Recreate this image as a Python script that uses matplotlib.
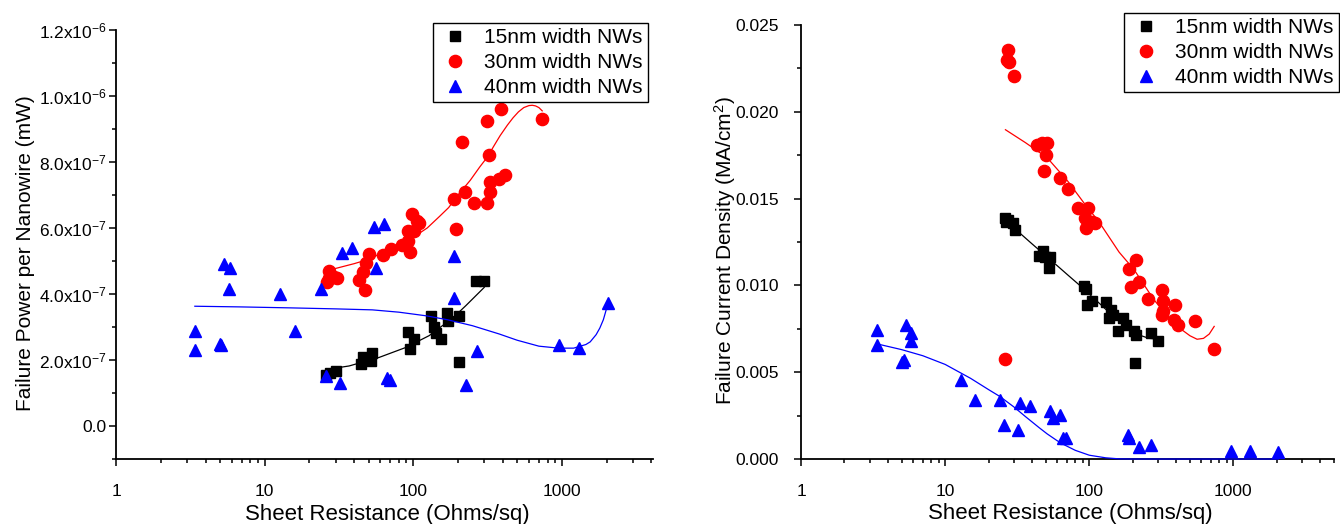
import matplotlib
matplotlib.use('Agg')
import matplotlib.pyplot as plt
from matplotlib.ticker import FixedLocator, FixedFormatter, LogLocator, NullFormatter

plt.rcParams['font.family'] = ['Liberation Sans', 'DejaVu Sans']
plt.rcParams['mathtext.fontset'] = 'custom'
plt.rcParams['mathtext.rm'] = 'Liberation Sans'
plt.rcParams['mathtext.it'] = 'Liberation Sans:italic'
plt.rcParams['mathtext.bf'] = 'Liberation Sans:bold'

# ---------------- DATA ----------------
series_labels = ['15nm width NWs', '30nm width NWs', '40nm width NWs']
x_ticks = [1, 10, 100, 1000]
x_tick_labels = ['1', '10', '100', '1000']

P_UNIT = 1e-7  # left panel values are in units of 1e-7 mW

# Left panel: Failure Power per Nanowire
p15_x = [25.9, 27.5, 30.0, 44.6, 46.2, 48.5, 52.0, 52.5, 92.5, 95.0, 101.6, 131.5, 138, 142,
         153.5, 167.4, 170, 203.5, 203.5, 263.6, 299.7]
p15_y = [1.55, 1.62, 1.67, 1.89, 2.08, 2.05, 1.98, 2.20, 2.84, 2.33, 2.63, 3.34, 2.99, 2.82,
         2.64, 3.44, 3.19, 3.34, 1.95, 4.39, 4.39]
p30_x = [26.2, 27.0, 27.3, 29.5, 30.5, 42.9, 45.7, 47.6, 48.2, 50.1, 62.2, 70.8, 83.6, 92.3,
         92.3, 95.5, 97.3, 100.7, 105.5, 109, 188, 193, 212, 223, 255, 315, 315, 321, 326, 330,
         379, 392, 411, 737]
p30_y = [4.35, 4.49, 4.71, 4.51, 4.50, 4.41, 4.66, 4.12, 4.93, 5.22, 5.17, 5.37, 5.50, 5.60,
         5.90, 5.28, 6.41, 5.90, 6.21, 6.16, 6.87, 5.96, 8.61, 7.10, 6.76, 9.24, 6.76, 8.21, 7.10,
         7.40, 7.50, 9.60, 7.60, 9.29]
p40_x = [3.39, 3.39, 5.01, 5.10, 5.33, 5.80, 5.76, 12.6, 15.9, 24.0, 25.7, 31.9, 33.0, 38.5,
         54.3, 63.2, 56.1, 66.2, 69.4, 188, 189, 226, 269, 961, 1313, 2048]
p40_y = [2.89, 2.29, 2.49, 2.47, 4.91, 4.79, 4.14, 4.01, 2.87, 4.14, 1.51, 1.30, 5.25, 5.38,
         6.03, 6.11, 4.79, 1.46, 1.39, 5.15, 3.88, 1.25, 2.26, 2.45, 2.35, 3.73]

# Left panel fitted curves
pf15_x = [26.5, 37, 59, 89, 128, 157, 184, 226, 300]
pf15_y = [1.72, 1.82, 2.08, 2.38, 2.74, 3.04, 3.27, 3.65, 4.20]
pf30_x = [28, 40, 50, 65, 80, 100, 124, 150, 173, 200, 242, 280, 315, 350, 384, 430, 469, 510,
          554, 600, 632, 665, 700, 737]
pf30_y = [4.74, 4.92, 5.05, 5.30, 5.50, 5.72, 6.00, 6.35, 6.62, 7.00, 7.45, 7.85, 8.15, 8.50,
          8.80, 9.12, 9.34, 9.52, 9.65, 9.71, 9.72, 9.70, 9.65, 9.55]
pf40_x = [3.39, 6.8, 15, 30, 53, 80, 122, 170, 250, 378, 500, 700, 950, 1200, 1450, 1550, 1700,
          1800, 1900, 2048]
pf40_y = [3.63, 3.61, 3.58, 3.55, 3.52, 3.45, 3.34, 3.22, 3.04, 2.79, 2.60, 2.42, 2.36, 2.36,
          2.47, 2.55, 2.77, 2.97, 3.22, 3.73]

p_yticks = [0, 2e-7, 4e-7, 6e-7, 8e-7, 1.0e-6, 1.2e-6]
p_ytick_labels = ['0.0', r'2.0x10$^{\mathregular{-7}}$', r'4.0x10$^{\mathregular{-7}}$',
                  r'6.0x10$^{\mathregular{-7}}$', r'8.0x10$^{\mathregular{-7}}$',
                  r'1.0x10$^{\mathregular{-6}}$', r'1.2x10$^{\mathregular{-6}}$']
p_yminor = [-1e-7, 1e-7, 3e-7, 5e-7, 7e-7, 9e-7, 1.1e-6]

# Right panel: Failure Current Density (MA/cm^2)
j15_x = [25.9, 26.6, 27.5, 29.4, 30.5, 44.9, 47.4, 49.1, 53.2, 52.5, 91.8, 95.0, 96.9, 103.7,
         131.6, 141, 136, 146, 170.6, 178.8, 159.2, 205, 212, 269, 302, 207.6]
j15_y = [0.01390, 0.01367, 0.01376, 0.01357, 0.01322, 0.01172, 0.01196, 0.01163, 0.01163,
         0.01098, 0.00997, 0.00978, 0.00890, 0.00910, 0.00904, 0.00861, 0.00813, 0.00832,
         0.00813, 0.00774, 0.00735, 0.00735, 0.00715, 0.00725, 0.00682, 0.00554]
j30_x = [27.5, 27.0, 27.9, 29.9, 26.2, 43.7, 46.8, 50.8, 50.1, 48.4, 63.1, 71.3, 83.4, 98.2,
         93.7, 95.6, 103.7, 108.8, 187.6, 212, 194, 222, 256.6, 319, 323.6, 319, 326, 391, 386,
         413, 542, 731]
j30_y = [0.02358, 0.02300, 0.02290, 0.02208, 0.00575, 0.01810, 0.01818, 0.01818, 0.01750,
         0.01658, 0.01619, 0.01557, 0.01448, 0.01448, 0.01386, 0.01328, 0.01367, 0.01357,
         0.01094, 0.01149, 0.00993, 0.01017, 0.00923, 0.00974, 0.00910, 0.00832, 0.00851,
         0.00886, 0.00803, 0.00774, 0.00793, 0.00634]
j40_x = [3.38, 3.38, 5.02, 5.19, 5.37, 5.83, 5.75, 12.8, 16.2, 24.0, 25.7, 32.0, 33.3, 38.7,
         53.6, 56.2, 63.1, 65.8, 69.0, 185, 189, 222, 269, 961, 1306, 2032]
j40_y = [0.00745, 0.00657, 0.00560, 0.00570, 0.00770, 0.00725, 0.00680, 0.00457, 0.00340,
         0.00340, 0.00194, 0.00165, 0.00321, 0.00307, 0.00274, 0.00239, 0.00255, 0.00122,
         0.00122, 0.00138, 0.00119, 0.00068, 0.00080, 0.00045, 0.00045, 0.00041]

# Right panel fitted curves
jf15_x = [26.6, 40, 56, 71, 86, 100, 120, 141, 171, 200, 230, 260, 290]
jf15_y = [0.01370, 0.01240, 0.01135, 0.01060, 0.01000, 0.00950, 0.00890, 0.00835, 0.00780,
          0.00740, 0.00710, 0.00695, 0.00692]
jf30_x = [26.2, 36, 51, 71, 94, 116, 161, 205, 280, 360, 430, 500, 560, 620, 680, 736]
jf30_y = [0.01897, 0.01823, 0.01736, 0.01600, 0.01464, 0.01370, 0.01192, 0.01090, 0.00919,
          0.00810, 0.00750, 0.00710, 0.00690, 0.00695, 0.00720, 0.00764]
jf40_x = [3.38, 5, 7, 10, 15, 20, 24, 30, 36, 45, 51, 60, 67, 80, 100, 130, 161, 200, 500,
          1000, 2048]
jf40_y = [0.00663, 0.00630, 0.00595, 0.00545, 0.00465, 0.00400, 0.00360, 0.00300, 0.00245,
          0.00180, 0.00145, 0.00105, 0.00082, 0.00050, 0.00022, 0.00007, 0.00001, 0.0, 0.0,
          0.0, 0.0]

j_yticks = [0.000, 0.005, 0.010, 0.015, 0.020, 0.025]
j_ytick_labels = ['0.000', '0.005', '0.010', '0.015', '0.020', '0.025']
j_yminor = [0.0025, 0.0075, 0.0125, 0.0175, 0.0225]

# ---------------- STYLE ----------------
colors = ['#000000', '#ff0000', '#0000ff']
markers = ['s', 'o', '^']
msizes = [7.6, 8.8, 8.8]

fig = plt.figure(figsize=(13.4, 5.24), dpi=100)
axL = fig.add_axes([0.0866, 0.124, 0.4007, 0.8187])
axR = fig.add_axes([0.5978, 0.124, 0.3978, 0.8282])


def style_axis(ax, xmax, label_y):
    ax.set_xscale('log')
    ax.set_xlim(1, xmax)
    for s in ['top', 'right']:
        ax.spines[s].set_visible(False)
    for s in ['left', 'bottom']:
        ax.spines[s].set_linewidth(1.3)
    ax.xaxis.set_major_locator(FixedLocator(x_ticks))
    ax.xaxis.set_major_formatter(FixedFormatter(x_tick_labels))
    ax.xaxis.set_minor_locator(LogLocator(base=10, subs=range(2, 10), numticks=20))
    ax.xaxis.set_minor_formatter(NullFormatter())
    ax.tick_params(which='major', direction='out', length=5, width=1.1, labelsize=12.5)
    ax.tick_params(which='minor', direction='out', length=3, width=1.1)
    ax.tick_params(axis='x', which='major', pad=13)
    ax.set_xlabel('Sheet Resistance (Ohms/sq)', fontsize=16, va='top')
    ax.xaxis.set_label_coords(0.506, label_y)


def make_legend(ax, handles, anchor):
    leg = ax.legend(handles=handles, loc='upper right', bbox_to_anchor=anchor,
                    bbox_transform=fig.transFigure, fontsize=15, frameon=True, fancybox=False,
                    edgecolor='#000000', framealpha=1, borderpad=0.25, labelspacing=0.28,
                    handlelength=1.6, handletextpad=0.6, borderaxespad=0)
    leg.get_frame().set_linewidth(1.0)
    return leg


# Left panel
style_axis(axL, 4100, -0.104)
sc = []
for xs, ys, c, m, ms, lab in zip([p15_x, p30_x, p40_x], [p15_y, p30_y, p40_y],
                                 colors, markers, msizes, series_labels):
    h, = axL.plot(xs, [v * P_UNIT for v in ys], linestyle='none', marker=m, ms=ms,
                  color=c, mec=c, label=lab, zorder=3)
    sc.append(h)
for xs, ys, c in zip([pf15_x, pf30_x, pf40_x], [pf15_y, pf30_y, pf40_y], colors):
    axL.plot(xs, [v * P_UNIT for v in ys], '-', color=c, lw=0.9, zorder=4)
axL.set_ylim(-1e-7, 1.2e-6)
axL.yaxis.set_major_locator(FixedLocator(p_yticks))
axL.yaxis.set_major_formatter(FixedFormatter(p_ytick_labels))
axL.yaxis.set_minor_locator(FixedLocator(p_yminor))
axL.tick_params(axis='y', which='major', pad=2)
axL.set_ylabel('Failure Power per Nanowire (mW)', fontsize=15)
axL.yaxis.set_label_coords(-0.151, 0.48)
make_legend(axL, sc, (0.4836, 0.9561))

# Right panel
style_axis(axR, 5000, -0.101)
sc = []
for xs, ys, c, m, ms, lab in zip([j15_x, j30_x, j40_x], [j15_y, j30_y, j40_y],
                                 colors, markers, msizes, series_labels):
    h, = axR.plot(xs, ys, linestyle='none', marker=m, ms=ms, color=c, mec=c,
                  label=lab, zorder=3, clip_on=False)
    sc.append(h)
for xs, ys, c in zip([jf15_x, jf30_x, jf40_x], [jf15_y, jf30_y, jf40_y], colors):
    axR.plot(xs, ys, '-', color=c, lw=0.9, zorder=4, clip_on=False)
axR.set_ylim(0, 0.025)
axR.yaxis.set_major_locator(FixedLocator(j_yticks))
axR.yaxis.set_major_formatter(FixedFormatter(j_ytick_labels))
axR.yaxis.set_minor_locator(FixedLocator(j_yminor))
axR.tick_params(axis='y', which='major', pad=11)
axR.set_ylabel(r'Failure Current Density (MA/cm$^{\mathregular{2}}$)', fontsize=15)
axR.yaxis.set_label_coords(-0.118, 0.48)
make_legend(axR, sc, (0.9993, 0.9752))

fig.savefig('out.png', dpi=100)
